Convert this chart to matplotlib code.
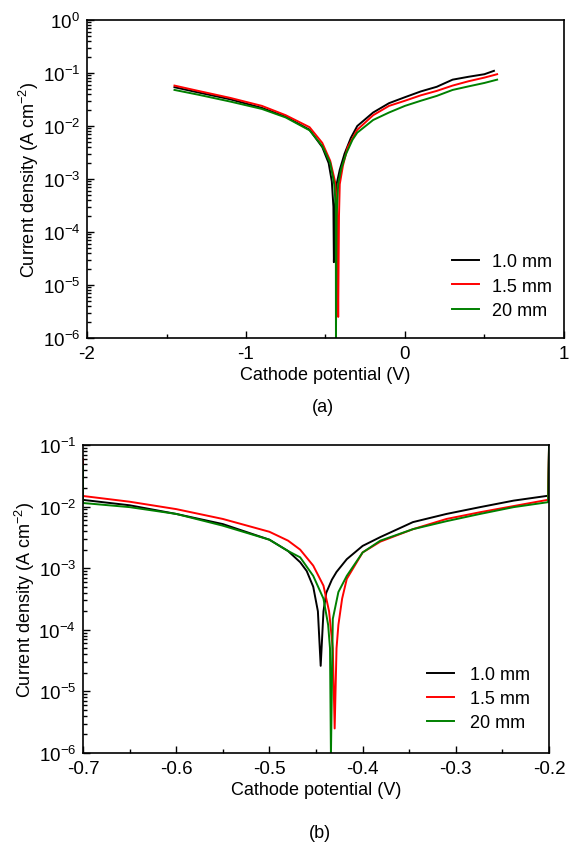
import numpy as np
import matplotlib
matplotlib.use("Agg")
import matplotlib.pyplot as plt
from matplotlib.ticker import MultipleLocator, LogLocator, NullFormatter

plt.rcParams["font.family"] = "Liberation Sans"
plt.rcParams["mathtext.fontset"] = "custom"
plt.rcParams["mathtext.rm"] = "Liberation Sans"
plt.rcParams["mathtext.it"] = "Liberation Sans:italic"
plt.rcParams["axes.unicode_minus"] = False
plt.rcParams["font.size"] = 13

labels = ["1.0 mm", "1.5 mm", "20 mm"]
colors = ["black", "red", "green"]

# panel (a): wide potential sweep
xa_10 = [-1.45, -1.3, -1.1, -0.9, -0.75, -0.6, -0.52, -0.48, -0.46, -0.45, -0.447,
         -0.44, -0.43, -0.41, -0.38, -0.34, -0.3, -0.2, -0.1, 0.0, 0.1, 0.2, 0.3,
         0.4, 0.5, 0.56]
ya_10 = [0.054, 0.043, 0.032, 0.022, 0.015, 0.0085, 0.004, 0.002, 0.0009, 0.0003,
         2.7e-5, 3e-4, 8e-4, 1.5e-3, 3e-3, 6e-3, 0.01, 0.018, 0.027, 0.035, 0.045,
         0.055, 0.075, 0.085, 0.095, 0.11]
xa_15 = [-1.45, -1.3, -1.1, -0.9, -0.75, -0.6, -0.52, -0.47, -0.44, -0.43, -0.425,
         -0.42, -0.415, -0.41, -0.39, -0.36, -0.3, -0.2, -0.1, 0.0, 0.1, 0.2, 0.3,
         0.4, 0.5, 0.58]
ya_15 = [0.058, 0.046, 0.034, 0.024, 0.016, 0.0095, 0.0048, 0.0022, 0.0009, 4e-4,
         1.2e-4, 2.5e-6, 2e-4, 8e-4, 1.8e-3, 4e-3, 8.5e-3, 0.016, 0.024, 0.03, 0.038,
         0.046, 0.058, 0.07, 0.082, 0.095]
xa_20 = [-1.45, -1.3, -1.1, -0.9, -0.75, -0.6, -0.52, -0.47, -0.445, -0.435, -0.434,
         -0.43, -0.42, -0.4, -0.37, -0.33, -0.3, -0.2, -0.1, 0.0, 0.1, 0.2, 0.3,
         0.4, 0.5, 0.58]
ya_20 = [0.048, 0.039, 0.029, 0.021, 0.0145, 0.0083, 0.0042, 0.002, 0.0008, 3e-4,
         9e-7, 2e-4, 8e-4, 1.6e-3, 3e-3, 5.5e-3, 7.5e-3, 0.013, 0.018, 0.024, 0.03,
         0.037, 0.048, 0.056, 0.065, 0.075]

# panel (b): narrow sweep
xb_10 = [-0.7, -0.7, -0.699, -0.65, -0.6, -0.55, -0.5, -0.48, -0.467, -0.46, -0.453,
         -0.448, -0.445, -0.442, -0.439, -0.433, -0.428, -0.417, -0.40, -0.381,
         -0.346, -0.31, -0.274, -0.238, -0.201, -0.2]
yb_10 = [0.02, 0.013, 0.0128, 0.0105, 0.0076, 0.0052, 0.0029, 0.0019, 0.00125,
         0.0009, 5e-4, 2e-4, 2.6e-5, 2e-4, 4e-4, 6.5e-4, 8.7e-4, 1.4e-3, 2.3e-3,
         3.2e-3, 5.6e-3, 7.6e-3, 9.8e-3, 0.0125, 0.015, 0.09]
xb_15 = [-0.7, -0.7, -0.699, -0.65, -0.6, -0.55, -0.5, -0.48, -0.467, -0.453, -0.442,
         -0.436, -0.432, -0.430, -0.428, -0.426, -0.422, -0.417, -0.40, -0.381,
         -0.346, -0.31, -0.274, -0.238, -0.201, -0.2]
yb_15 = [0.059, 0.015, 0.0148, 0.012, 0.0091, 0.0063, 0.0039, 0.0028, 0.002, 0.0011,
         5.2e-4, 2e-4, 5e-5, 2.5e-6, 5e-5, 1.2e-4, 3.2e-4, 6.7e-4, 1.8e-3, 2.7e-3,
         4.3e-3, 6.3e-3, 8.1e-3, 0.0102, 0.0129, 0.1]
xb_20 = [-0.7, -0.7, -0.699, -0.65, -0.6, -0.55, -0.5, -0.48, -0.467, -0.453, -0.442,
         -0.437, -0.435, -0.434, -0.432, -0.426, -0.417, -0.40, -0.381, -0.346,
         -0.31, -0.274, -0.238, -0.201, -0.2]
yb_20 = [0.046, 0.0115, 0.0114, 0.0098, 0.0076, 0.0049, 0.0029, 0.0019, 0.0015,
         7.5e-4, 3.2e-4, 1.2e-4, 5e-5, 9e-7, 1.5e-4, 4.1e-4, 7.5e-4, 1.8e-3, 2.8e-3,
         4.3e-3, 5.8e-3, 7.6e-3, 9.8e-3, 0.0118, 0.1]

fig = plt.figure(figsize=(5.69, 8.45), dpi=100)
ax_a = fig.add_axes([0.153, 0.5988, 0.838, 0.3763])
ax_b = fig.add_axes([0.1459, 0.1077, 0.819, 0.3645])


def style_axis(ax, ymin, ymax, xmaj, xmin_step):
    ax.set_yscale("log")
    ax.set_ylim(ymin, ymax)
    ax.xaxis.set_major_locator(MultipleLocator(xmaj))
    ax.xaxis.set_minor_locator(MultipleLocator(xmin_step))
    ax.yaxis.set_major_locator(LogLocator(base=10, numticks=10))
    ax.yaxis.set_minor_locator(LogLocator(base=10, subs=np.arange(2, 10), numticks=20))
    ax.yaxis.set_minor_formatter(NullFormatter())
    ax.tick_params(which="both", direction="in", top=False, right=False, width=1.0)
    ax.tick_params(which="major", length=5, labelsize=13.5, pad=5)
    ax.tick_params(which="minor", length=3)
    for sp in ax.spines.values():
        sp.set_linewidth(1.2)
    ax.set_xlabel("Cathode potential (V)", fontsize=13, labelpad=3)
    ax.set_ylabel("Current density (A cm$^{-2}$)", fontsize=13, labelpad=1)


for x, y, c, lab in zip([xa_10, xa_15, xa_20], [ya_10, ya_15, ya_20], colors, labels):
    ax_a.plot(x, y, color=c, lw=1.4, label=lab)
ax_a.set_xlim(-2, 1)
style_axis(ax_a, 1e-6, 1e0, 1, 0.5)
ax_a.legend(loc="lower right", bbox_to_anchor=(0.975, 0.06), frameon=False,
            borderaxespad=0, borderpad=0, handlelength=1.5, handletextpad=0.7,
            labelspacing=0.4, fontsize=13)

for x, y, c, lab in zip([xb_10, xb_15, xb_20], [yb_10, yb_15, yb_20], colors, labels):
    ax_b.plot(x, y, color=c, lw=1.4, label=lab)
ax_b.set_xlim(-0.7, -0.2)
style_axis(ax_b, 1e-6, 1e-1, 0.1, 0.05)
ax_b.legend(loc="lower right", bbox_to_anchor=(0.96, 0.07), frameon=False,
            borderaxespad=0, borderpad=0, handlelength=1.5, handletextpad=0.9,
            labelspacing=0.4, fontsize=13)

fig.text(323 / 569, 1 - 408 / 845, "(a)", ha="center", va="center", fontsize=13)
fig.text(320 / 569, 1 - 834 / 845, "(b)", ha="center", va="center", fontsize=13)

fig.savefig("out.png", dpi=100)
